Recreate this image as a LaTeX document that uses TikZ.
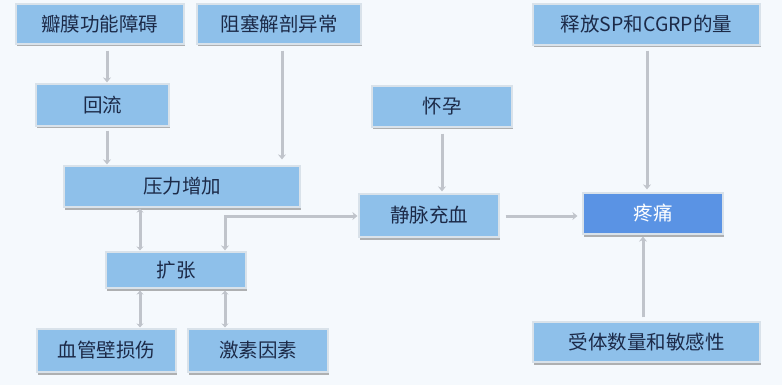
\documentclass[tikz,border=0pt]{standalone}
\usepackage{fontspec}
\setmainfont{Noto Sans CJK SC}
\usetikzlibrary{arrows.meta,shadows}
\definecolor{bg}{HTML}{F5F9FD}
\definecolor{boxfill}{HTML}{8EC0EA}
\definecolor{painfill}{HTML}{5A93E4}
\definecolor{boxedge}{HTML}{D9E2EA}
\definecolor{txt}{HTML}{1C2A48}
\definecolor{arrowc}{HTML}{C0C4CB}
\tikzset{
  box/.style={draw=boxedge, line width=1.2pt, fill=boxfill, text=txt, inner sep=0pt,
    font=\fontsize{19.5}{22}\selectfont,
    drop shadow={shadow xshift=0.5pt, shadow yshift=-2.5pt, fill=black!50, opacity=0.6}},
  painbox/.style={box, fill=painfill, text=white},
  arr/.style={draw=arrowc, line width=3pt, -{Stealth[length=5pt,width=8pt]}},
  darr/.style={draw=arrowc, line width=3pt, {Stealth[length=4pt,width=7pt]}-{Stealth[length=4pt,width=7pt]}}
}
\begin{document}
\begin{tikzpicture}[x=1pt,y=-1pt]
\fill[bg] (0,0) rectangle (782,385);
\useasboundingbox (0,0) rectangle (782,385);
% nodes
\node[box, minimum width=168pt, minimum height=40pt] (a) at (100,24) {瓣膜功能障碍};
\node[box, minimum width=164pt, minimum height=40pt] (b) at (279,24) {阻塞解剖异常};
\node[box, minimum width=133pt, minimum height=42pt] (c) at (102.5,105) {回流};
\node[box, minimum width=236pt, minimum height=41pt] (d) at (182,186.5) {压力增加};
\node[box, minimum width=140pt, minimum height=36pt] (e) at (176,270) {扩张};
\node[box, minimum width=139pt, minimum height=43pt] (f) at (106.5,350.5) {血管壁损伤};
\node[box, minimum width=140pt, minimum height=43pt] (g) at (258,350.5) {激素因素};
\node[box, minimum width=140pt, minimum height=41pt] (h) at (442,106.5) {怀孕};
\node[box, minimum width=140pt, minimum height=43pt] (i) at (429,215.5) {静脉充血};
\node[painbox, minimum width=140pt, minimum height=41pt] (j) at (653,213.5) {疼痛};
\node[box, minimum width=227pt, minimum height=41pt] (k) at (646.5,24.5) {释放SP和CGRP的量};
\node[box, minimum width=227pt, minimum height=40pt] (l) at (646.5,342) {受体数量和敏感性};
\coordinate (bend) at (225,216);
% connectors
\draw[arr, shorten <=6pt, shorten >=1pt] (a.south -| 107,0) -- (c.north -| 107,0);
\draw[arr, shorten <=4pt, shorten >=1pt] (c.south -| 107,0) -- (d.north -| 107,0);
\draw[arr, shorten <=6pt, shorten >=6pt] (b.south -| 282,0) -- (d.north -| 282,0);
\draw[darr, shorten <=1pt, shorten >=1pt] (d.south -| 140,0) -- (e.north -| 140,0);
\draw[darr, shorten <=2pt, shorten >=1pt] (e.south -| 140,0) -- (f.north -| 140,0);
\draw[darr, shorten <=2pt, shorten >=1pt] (e.south -| 225,0) -- (g.north -| 225,0);
\draw[arrowc, line width=3pt, {Stealth[length=5pt,width=8pt]}-{Stealth[length=5pt,width=8pt]}, shorten <=1pt, shorten >=1pt] (e.north -| bend) -- (bend) -- (bend -| i.west);
\draw[arr, shorten <=6pt, shorten >=2pt] (h.south -| 442,0) -- (i.north -| 442,0);
\draw[arr, shorten <=5pt, shorten >=3pt] (k.south -| 647,0) -- (j.north -| 647,0);
\draw[arr, shorten <=6pt, shorten >=5pt] (i.east |- 0,216) -- (j.west |- 0,216);
\draw[arr, shorten <=4pt, shorten >=2pt] (l.north -| 643,0) -- (j.south -| 643,0);
\end{tikzpicture}
\end{document}
